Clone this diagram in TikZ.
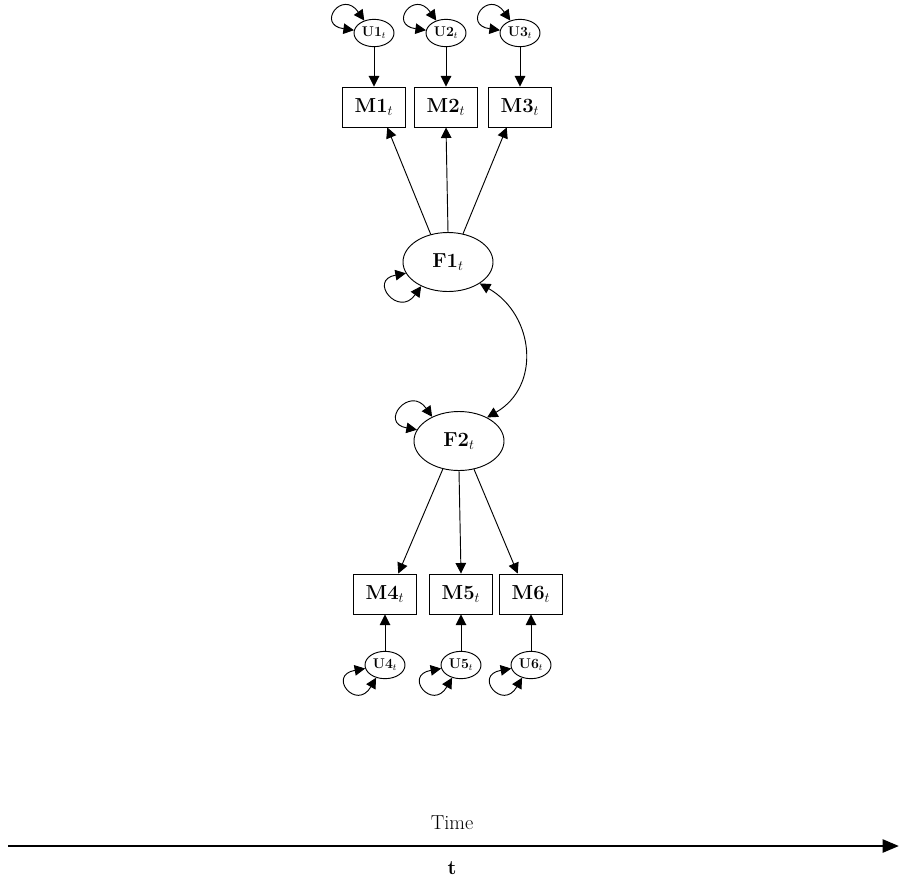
\documentclass[tikz,border=0pt]{standalone}
\usetikzlibrary{shapes.geometric,arrows.meta}
\begin{document}
\begin{tikzpicture}[x=0.03cm, y=-0.03cm, line width=.8pt,
    obs/.style={draw, rectangle, minimum width=1.89cm, minimum height=1.2cm, inner sep=0pt, font=\LARGE\bfseries},
    err/.style={draw, ellipse, minimum width=1.2cm, minimum height=.82cm, inner sep=0pt, font=\large\bfseries},
    lat/.style={draw, ellipse, minimum width=2.7cm, minimum height=1.77cm, inner sep=0pt, font=\LARGE\bfseries},
    load/.style={-{Triangle[length=9pt,width=9pt]}},
    covar/.style={{Triangle[length=9pt,width=9pt]}-{Triangle[length=9pt,width=9pt]}}]
    \useasboundingbox (0,0) rectangle (899,883);

    % indicators and their errors
    \foreach \i/\x in {1/374,2/446,3/520}{%
        \node[obs] (m\i) at (\x,107) {M\i$_t$};
        \node[err] (u\i) at (\x,33) {U\i$_t$};
        \draw[load] (u\i) -- (m\i);
        \draw[covar] (u\i.172) to[out=172,in=125,looseness=7] (u\i.128);
    }
    \foreach \i/\x in {4/385,5/461,6/531}{%
        \node[obs] (m\i) at (\x,594) {M\i$_t$};
        \node[err] (u\i) at (\x,665) {U\i$_t$};
        \draw[load] (u\i) -- (m\i);
        \draw[covar] (u\i.190) to[out=190,in=240,looseness=7] (u\i.235);
    }

    % factors
    \node[lat] (f1) at (448,262) {F1$_t$};
    \node[lat] (f2) at (459,441) {F2$_t$};

    \draw[load] (f1.122) -- (m1.-57);
    \draw[load] (f1.90) -- (m2.south);
    \draw[load] (f1.62) -- (m3.-123);
    \draw[load] (f2.-120) -- (m4.57);
    \draw[load] (f2.-90) -- (m5.north);
    \draw[load] (f2.-62) -- (m6.123);

    \draw[covar] (f1.195) to[out=190,in=235,looseness=5] (f1.222);
    \draw[covar] (f2.165) to[out=170,in=125,looseness=5] (f2.138);
    \draw[covar] (f1.-34) to[out=-30,in=30,looseness=1.2] (f2.40);

    % time axis
    \coordinate (t0) at (8,846);
    \coordinate (t1) at (899,846);
    \draw[line width=2.5pt, -{Triangle[length=14pt,width=11pt]}] (t0) -- (t1);
    \node[font=\LARGE] (time) at (452,823) {Time};
    \node[font=\LARGE\bfseries] (tlab) at (452,868) {t};
\end{tikzpicture}
\end{document}
